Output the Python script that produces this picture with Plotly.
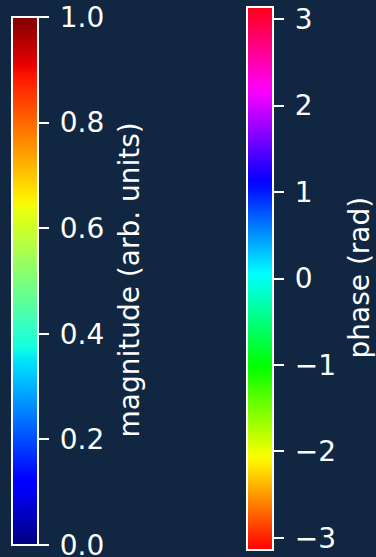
import numpy as np
import plotly.graph_objects as go

# Colorbar ranges, tick values and labels
mag_range = [0.0, 1.0]
mag_ticks = [0.0, 0.2, 0.4, 0.6, 0.8, 1.0]
mag_ticktext = ["0.0", "0.2", "0.4", "0.6", "0.8", "1.0"]
phase_range = [-np.pi, np.pi]
phase_ticks = [-3, -2, -1, 0, 1, 2, 3]
phase_ticktext = ["\u22123", "\u22122", "\u22121", "0", "1", "2", "3"]
mag_title = "magnitude (arb. units)"
phase_title = "phase (rad)"

BG = "#112640"
FG = "white"
FONT = "DejaVu Sans"
PAD = "\u2009"  # thin space between tick mark and label

W, H = 376, 557


def seg_scale(red, green, blue):
    """Build a Plotly colorscale from piecewise-linear channel definitions."""
    pts = sorted(set([p for p, _ in red] + [p for p, _ in green] + [p for p, _ in blue]))

    def interp(ch, t):
        return float(np.interp(t, [p for p, _ in ch], [v for _, v in ch]))

    scale = []
    for t in pts:
        r, g, b = (round(255 * interp(c, t)) for c in (red, green, blue))
        scale.append([t, f"rgb({r},{g},{b})"])
    return scale


jet = seg_scale(
    [(0, 0), (0.35, 0), (0.66, 1), (0.89, 1), (1, 0.5)],
    [(0, 0), (0.125, 0), (0.375, 1), (0.64, 1), (0.91, 0), (1, 0)],
    [(0, 0.5), (0.11, 1), (0.34, 1), (0.65, 0), (1, 0)],
)
hsv = seg_scale(
    [(0, 1), (0.158730, 1), (0.174603, 0.96875), (0.333333, 0.03125), (0.349206, 0),
     (0.666667, 0), (0.682540, 0.03125), (0.841270, 0.96875), (0.857143, 1), (1, 1)],
    [(0, 0), (0.158730, 0.9375), (0.174603, 1), (0.507937, 1), (0.666667, 0.0625),
     (0.682540, 0), (1, 0)],
    [(0, 0), (0.333333, 0), (0.349206, 0.0625), (0.507937, 1), (0.841270, 1),
     (0.857143, 0.9375), (1, 0.09375)],
)


def bar(cmin, cmax, scale, x, y, length, tickvals, ticktext):
    eps = (cmax - cmin) * 1e-6
    return go.Scatter(
        x=[None, None], y=[None, None], mode="markers", showlegend=False,
        hoverinfo="skip",
        marker=dict(
            color=[cmin, cmax], cmin=cmin - eps, cmax=cmax + eps,
            colorscale=scale, opacity=0, showscale=True,
            colorbar=dict(
                x=x, xanchor="left", xref="paper", xpad=0,
                y=y, yanchor="middle", yref="paper", ypad=0,
                len=length, lenmode="pixels", thickness=26, thicknessmode="pixels",
                outlinecolor=FG, outlinewidth=2, bgcolor="rgba(0,0,0,0)",
                borderwidth=0,
                ticks="outside", ticklen=10, tickwidth=2, tickcolor=FG,
                tickvals=tickvals, ticktext=[PAD + t for t in ticktext],
                ticklabeloverflow="allow",
                tickfont=dict(family=FONT, size=28, color=FG),
                title=dict(text=""),
            ),
        ),
    )


fig = go.Figure()
fig.add_trace(bar(mag_range[0], mag_range[1], jet, 12 / W, 1 - 281 / H, 528,
                  mag_ticks, mag_ticktext))
fig.add_trace(bar(phase_range[0], phase_range[1], hsv, 247 / W, 1 - 278.5 / H, 543,
                  phase_ticks, phase_ticktext))

# Rotated colorbar titles
for text, xc, yc in [(mag_title, 129, 280.5), (phase_title, 359, 277.5)]:
    fig.add_annotation(
        text=text, textangle=-90, x=xc / W, y=1 - yc / H,
        xref="paper", yref="paper", xanchor="center", yanchor="middle",
        showarrow=False, font=dict(family=FONT, size=28, color=FG),
    )

fig.update_layout(
    width=W, height=H, margin=dict(l=0, r=0, t=0, b=0),
    paper_bgcolor=BG, plot_bgcolor=BG,
    xaxis=dict(visible=False), yaxis=dict(visible=False),
)
fig.write_html("out.html")
